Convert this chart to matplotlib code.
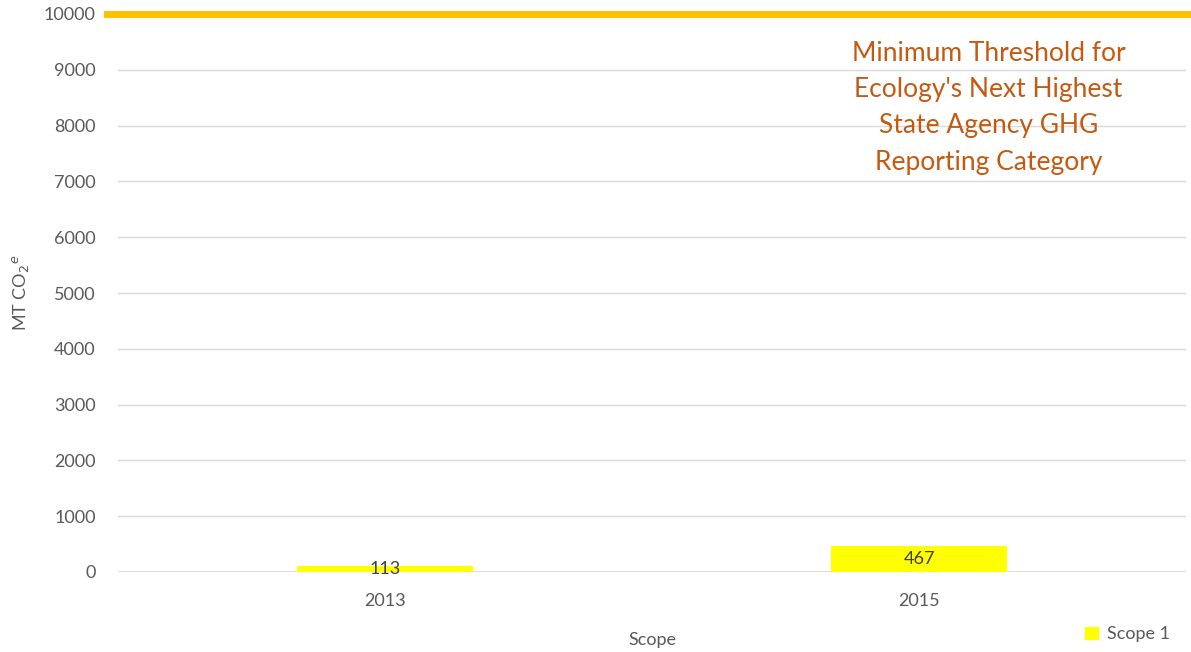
import matplotlib
matplotlib.use('Agg')
import matplotlib.pyplot as plt
from matplotlib.patches import Patch

# data
years = ['2013', '2015']
scope1 = [113, 467]
threshold = 10000
yticks = list(range(0, 10001, 1000))
note = "Minimum Threshold for\nEcology's Next Highest\nState Agency GHG\nReporting Category"

plt.rcParams['font.family'] = ['Lato', 'DejaVu Sans']
grey = '#595959'

fig = plt.figure(figsize=(11.91, 6.52), dpi=100)
ax = fig.add_axes([118 / 1191, 1 - 572 / 652, 1068 / 1191, 558 / 652])

x = range(len(years))
bars = ax.bar(x, scope1, width=0.328, color='#FFFF00', zorder=3, label='Scope 1')
ax.bar_label(bars, labels=[str(v) for v in scope1], label_type='center',
             fontsize=13, color='#404040', zorder=4)

# threshold line
ax.axhline(threshold, xmin=-0.01, xmax=1.01, color='#FFC000', linewidth=5,
           clip_on=False, zorder=5)

ax.set_xlim(-0.5, 1.5)
ax.set_ylim(0, 10000)
ax.set_yticks(yticks)
ax.set_xticks(list(x))
ax.set_xticklabels(years)
ax.grid(axis='y', color='#D9D9D9', linewidth=1, zorder=0)
ax.axhline(0, color='#D9D9D9', linewidth=1.2, zorder=1)
for s in ax.spines.values():
    s.set_visible(False)
ax.tick_params(axis='both', length=0, labelsize=13, labelcolor=grey)
ax.tick_params(axis='y', pad=16)
ax.tick_params(axis='x', pad=15)

ax.set_ylabel(r'MT CO$_2$$^e$', fontsize=13, color=grey, labelpad=9)
ax.set_xlabel('Scope', fontsize=13, color=grey, labelpad=17)

ax.text(1.13, 8320, note, ha='center', va='center', fontsize=19,
        color='#C65911', linespacing=1.56)

ax.legend(handles=[Patch(color='#FFFF00', label='Scope 1')], loc='lower right',
          bbox_to_anchor=(1.0, -0.155), frameon=False, fontsize=13,
          handlelength=0.7, handleheight=0.7, handletextpad=0.5,
          labelcolor=grey)

fig.savefig('out.png', dpi=100)
